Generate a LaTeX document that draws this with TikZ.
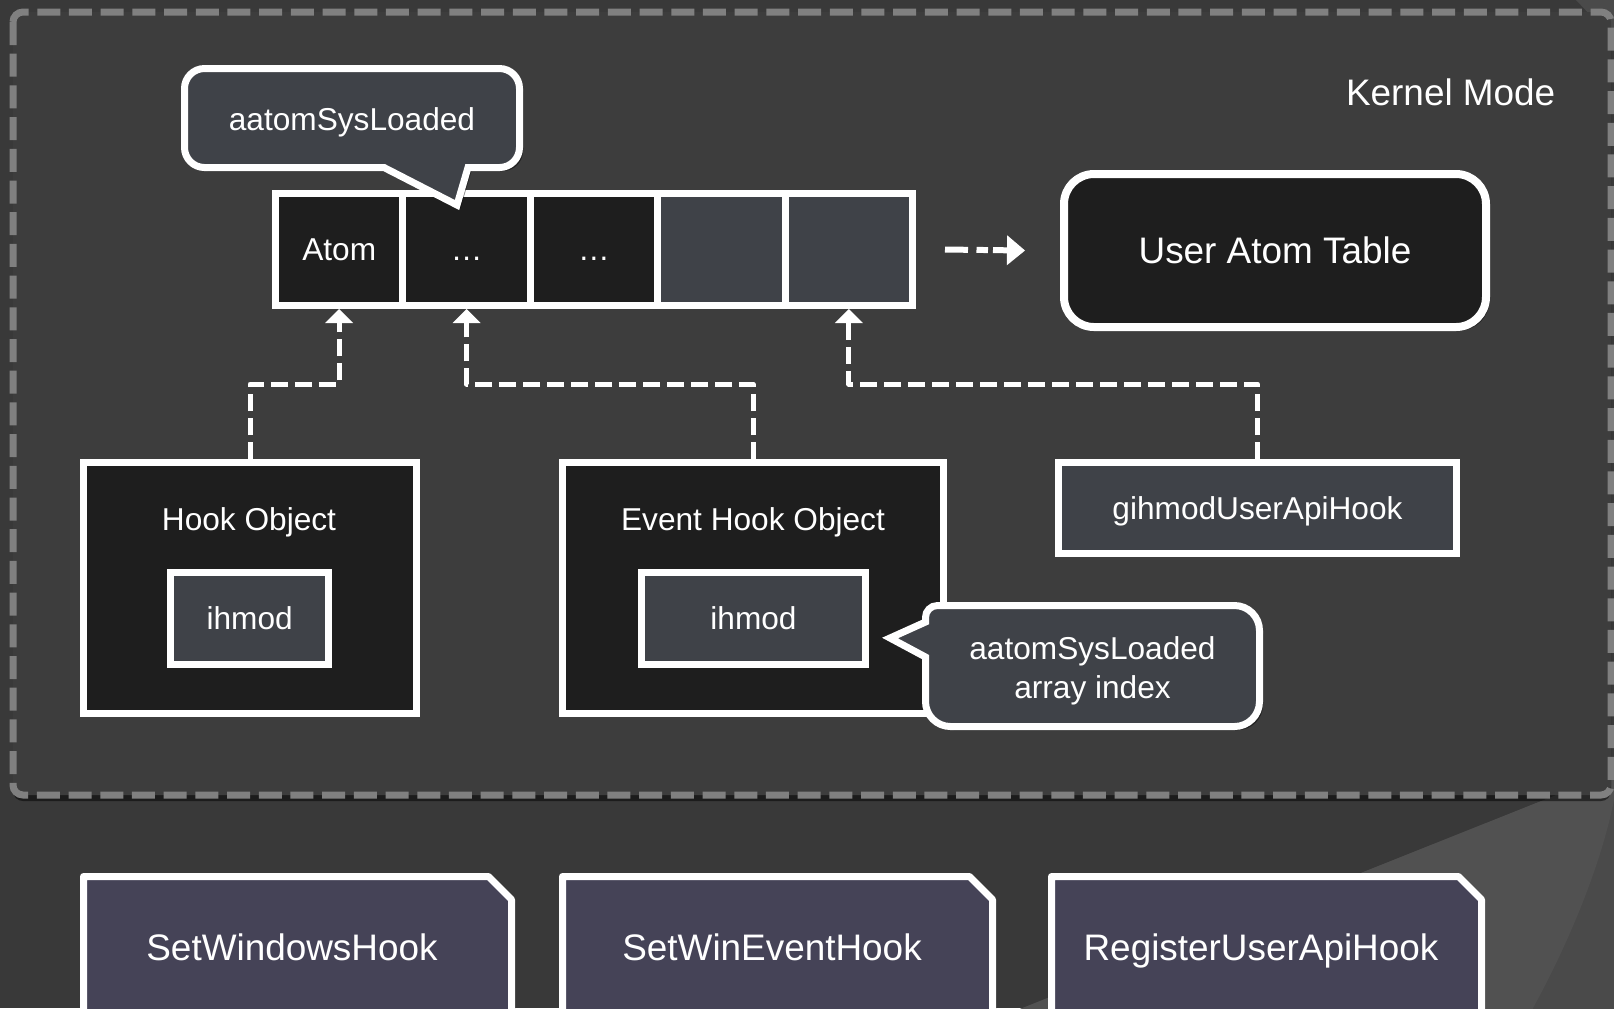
\documentclass[tikz,border=0pt]{standalone}
\usepackage{fontspec}
\setmainfont{Liberation Sans}
\usetikzlibrary{arrows.meta,shadows}
\definecolor{pagebg}{HTML}{393939}
\definecolor{panelbg}{HTML}{3D3D3D}
\definecolor{panelline}{HTML}{808080}
\definecolor{slabA}{HTML}{4A4A4A}
\definecolor{slabB}{HTML}{515151}
\definecolor{cdark}{HTML}{1E1E1E}
\definecolor{cgrey}{HTML}{3F4248}
\definecolor{cpurple}{HTML}{454357}
\newcommand\txtS{\fontsize{9pt}{11.1pt}\selectfont}
\newcommand\txtL{\fontsize{10.5pt}{12.6pt}\selectfont}
\begin{document}
\begin{tikzpicture}[x=0.1mm, y=0.1mm,
  lbl/.style={text=white, font=\txtS, inner sep=0pt, text height=6.45pt, text depth=0pt},
  biglbl/.style={text=white, font=\txtL, inner sep=0pt, text height=7.52pt, text depth=0pt},
  boxshadow/.style={drop shadow={shadow xshift=0.35mm, shadow yshift=-0.35mm, opacity=0.45, fill=black}},
  kernelbox/.style={draw=panelline, fill=panelbg, line width=0.7mm, dash pattern=on 2.3mm off 0.87mm,
    rounded corners=1mm, drop shadow={shadow xshift=0mm, shadow yshift=-0.6mm, opacity=0.5, fill=black}},
  cell/.style={draw=white, line width=0.7mm, minimum width=12.74mm, minimum height=11.2mm, inner sep=0pt,
    text height=6.45pt, text depth=0pt, text=white, font=\txtS, boxshadow},
  darkcell/.style={cell, fill=cdark},
  greycell/.style={cell, fill=cgrey},
  callout/.style={draw=white, fill=cgrey, line width=0.7mm, line join=miter, boxshadow},
  uatbox/.style={draw=white, fill=cdark, line width=0.8mm, rounded corners=3mm, minimum width=42.2mm,
    minimum height=15.3mm, text height=7.52pt, text depth=0pt, text=white, font=\txtL, boxshadow},
  objbox/.style={draw=white, fill=cdark, line width=0.7mm, minimum height=25.1mm, inner sep=0pt, boxshadow},
  fieldbox/.style={draw=white, fill=cgrey, line width=0.7mm, minimum height=9.2mm, inner sep=0pt,
    text height=6.45pt, text depth=0pt, text=white, font=\txtS, boxshadow},
  snipbox/.style={draw=white, fill=cpurple, line width=0.7mm, line join=round, boxshadow},
  conn/.style={draw=white, line width=0.5mm, dash pattern=on 1.7mm off 0.7mm, line join=round,
    -{Triangle[width=2.8mm,length=1.4mm,line width=0pt]}}
]
\useasboundingbox (0,0) rectangle (1614,-1008);
\fill[pagebg] (0,0) rectangle (1614,-1008);

% decorative slab behind the lower right corner
\fill[slabA] (1000,-1017) -- (1614,-772) -- (1614,-1020) -- cycle;
\fill[slabB] (1000,-1017) -- (1614,-772) -- (1614,-800)
  .. controls (1600,-870) and (1565,-950) .. (1533,-1008) -- (1530,-1020) -- cycle;
\fill[slabA] (1576,0) -- (1614,0) -- (1614,-40) -- cycle;

% kernel mode region
\draw[kernelbox] (13,-12) rectangle (1611,-795);
\node[biglbl, anchor=east] (kmode) at (1556,-92.6) {Kernel Mode};

% atom array
\node[darkcell] (c1) at (339.2,-249.5) {Atom};
\node[darkcell] (c2) at (466.6,-249.5) {…};
\node[darkcell] (c3) at (594,-249.5) {…};
\node[greycell] (c4) at (721.4,-249.5) {};
\node[greycell] (c5) at (848.8,-249.5) {};

% callout naming the array
\draw[callout] (300,-167.5) [rounded corners=2mm] -- (184.5,-167.5) -- (184.5,-68.5) -- (519.5,-68.5)
  -- (519.5,-167.5) [sharp corners] -- (468,-167.5) -- (457,-205) -- (384,-167.5) -- cycle;
\node[lbl] (tag1) at (352,-119.5) {aatomSysLoaded};

% user atom table
\node[uatbox] (uat) at (1275,-250.5) {User Atom Table};
\draw[conn, line width=0.6mm, dash pattern=on 2.3mm off 0.85mm on 1.15mm off 0.5mm on 5mm off 1mm,
  -{Triangle[width=3mm,length=1.8mm,line width=0pt]}]
  ([xshift=2.9mm]c5.east) -- ([xshift=-3.5mm]uat.west);

% hook objects
\node[objbox, minimum width=33.3mm] (hook) at (250,-588) {};
\node[lbl] (hookt) at (249,-519) {Hook Object};
\node[fieldbox, minimum width=15.85mm] (hookf) at (249.7,-618.5) {ihmod};

\node[objbox, minimum width=38.1mm] (ehook) at (753,-588) {};
\node[lbl] (ehookt) at (753,-519) {Event Hook Object};
\node[fieldbox, minimum width=22.4mm] (ehookf) at (753.5,-618.5) {ihmod};

\node[fieldbox, minimum width=39.8mm, minimum height=9.1mm] (gih) at (1257.5,-508) {gihmodUserApiHook};

% references into the array
\coordinate (lvl) at (0,-384);
\draw[conn] (hook.north) -- (hook.north |- lvl) -| (c1.south);
\draw[conn] (ehook.north) -- (ehook.north |- lvl) -| (c2.south);
\draw[conn] (gih.north) -- (gih.north |- lvl) -| (c5.south);

% callout on the ihmod field
\draw[callout] (1100,-726.5) [rounded corners=2.5mm] -- (1259.5,-726.5) -- (1259.5,-605.5)
  [rounded corners=1.2mm] -- (925.5,-605.5)
  [sharp corners] -- (925.5,-622) -- (890,-638) -- (925.5,-657)
  [rounded corners=2.5mm] -- (925.5,-726.5) -- cycle;
\node[text=white, font=\txtS, inner sep=0pt, align=center] (tag2) at (1092.5,-670.5) {aatomSysLoaded\\array index};

% user mode API calls
\draw[snipbox] (83.5,-1030) -- (83.5,-876.5) -- (488.5,-876.5) -- (511.5,-899.5) -- (511.5,-1030) -- cycle;
\node[biglbl] (swh) at (292,-947) {SetWindowsHook};
\draw[snipbox] (562.5,-1030) -- (562.5,-876.5) -- (969.5,-876.5) -- (992.5,-899.5) -- (992.5,-1030) -- cycle;
\node[biglbl] (sweh) at (772,-947) {SetWinEventHook};
\draw[snipbox] (1051.5,-1030) -- (1051.5,-876.5) -- (1458.5,-876.5) -- (1481.5,-899.5) -- (1481.5,-1030) -- cycle;
\node[biglbl] (ruah) at (1261,-947) {RegisterUserApiHook};
\end{tikzpicture}
\end{document}
